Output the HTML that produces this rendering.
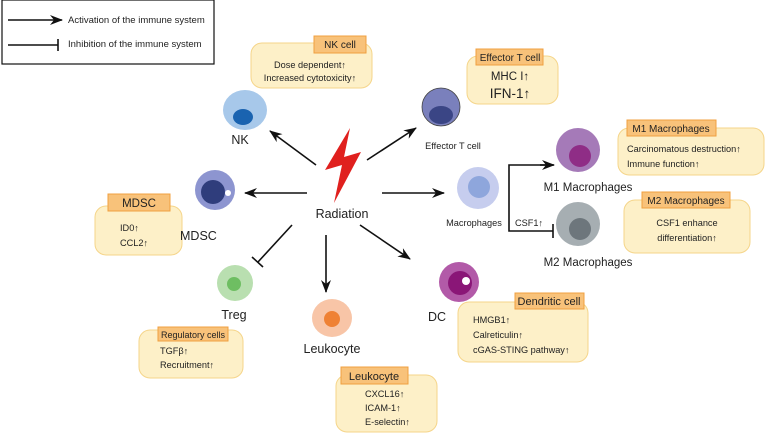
<!DOCTYPE html>
<html><head><meta charset="utf-8"><style>body{margin:0;background:#fff}svg{display:block}text{font-family:"Liberation Sans",sans-serif;fill:#222}</style></head><body>
<svg width="766" height="435" viewBox="0 0 766 435" xmlns="http://www.w3.org/2000/svg">
<defs><marker id="a" markerWidth="13" markerHeight="10" refX="12" refY="5" orient="auto" markerUnits="userSpaceOnUse"><path d="M0,0 L13,5 L0,10 L4,5z" fill="#111"/></marker></defs>
<g stroke="#111" stroke-width="1.6" fill="none">
<rect x="2" y="0" width="212" height="64" stroke-width="1.2"/>
<line x1="8" y1="20" x2="62" y2="20" marker-end="url(#a)"/>
<line x1="8" y1="45" x2="58" y2="45"/><line x1="58" y1="39" x2="58" y2="51"/>
<line x1="316" y1="165" x2="270" y2="131" marker-end="url(#a)"/>
<line x1="367" y1="160" x2="416" y2="128" marker-end="url(#a)"/>
<line x1="382" y1="193" x2="444" y2="193" marker-end="url(#a)"/>
<line x1="307" y1="193" x2="245" y2="193" marker-end="url(#a)"/>
<line x1="292" y1="225" x2="258" y2="262"/><line x1="252" y1="257" x2="263" y2="267"/>
<line x1="326" y1="235" x2="326" y2="292" marker-end="url(#a)"/>
<line x1="360" y1="225" x2="410" y2="259" marker-end="url(#a)"/>
<polyline points="553,165 509,165 509,231 553,231"/>
<line x1="540" y1="165" x2="554" y2="165" marker-end="url(#a)"/>
<line x1="553" y1="224" x2="553" y2="238"/>
</g>
<polygon points="350,128 325,170 342,165 334,203 361,152 344,157" fill="#e0201e"/>
<ellipse cx="245" cy="110" rx="22" ry="20" fill="#a7c8ea"/><ellipse cx="243" cy="117" rx="10" ry="8" fill="#1a63b0"/>
<circle cx="441" cy="107" r="19" fill="#7a80bc" stroke="#444" stroke-width="0.8"/><ellipse cx="441" cy="115" rx="12" ry="9" fill="#3a4585"/>
<circle cx="478" cy="188" r="21" fill="#c6cdee"/><circle cx="479" cy="187" r="11" fill="#8ea6dc"/>
<circle cx="578" cy="150" r="22" fill="#a57ab8"/><circle cx="580" cy="156" r="11" fill="#8f2d86"/>
<circle cx="578" cy="224" r="22" fill="#a6aeb2"/><circle cx="580" cy="229" r="11" fill="#6d767c"/>
<circle cx="215" cy="190" r="20" fill="#8d95d0"/><circle cx="213" cy="192" r="12" fill="#2f3d7c"/><circle cx="228" cy="193" r="3" fill="#fff"/>
<circle cx="235" cy="283" r="18" fill="#b9dfb0"/><circle cx="234" cy="284" r="7" fill="#6ebe62"/>
<ellipse cx="332" cy="318" rx="20" ry="19" fill="#f8c5a7"/><circle cx="332" cy="319" r="8" fill="#ef8134"/>
<circle cx="459" cy="282" r="20" fill="#b25aa8"/><circle cx="460" cy="283" r="12" fill="#8a1677"/><circle cx="466" cy="281" r="4" fill="#fff"/>
<g fill="#fdf0c8" stroke="#f5d58a" stroke-width="1">
<rect x="251" y="43" width="121" height="45" rx="11"/>
<rect x="467" y="56" width="91" height="48" rx="11"/>
<rect x="618" y="128" width="146" height="47" rx="11"/>
<rect x="624" y="200" width="126" height="53" rx="11"/>
<rect x="95" y="206" width="87" height="49" rx="11"/>
<rect x="139" y="330" width="104" height="48" rx="11"/>
<rect x="336" y="375" width="101" height="57" rx="11"/>
<rect x="458" y="302" width="130" height="60" rx="11"/>
</g>
<g fill="#f8c27a" stroke="#f0a040" stroke-width="1">
<rect x="314" y="36" width="52" height="17"/>
<rect x="476" y="49" width="67" height="16"/>
<rect x="627" y="120" width="89" height="16"/>
<rect x="642" y="192" width="88" height="16"/>
<rect x="108" y="194" width="62" height="17"/>
<rect x="158" y="327" width="70" height="14"/>
<rect x="341" y="367" width="67" height="17"/>
<rect x="515" y="293" width="69" height="16"/>
</g>
<g font-size="9.5">
<text x="68" y="23">Activation of the immune system</text>
<text x="68" y="47">Inhibition of the immune system</text>
</g>
<g font-size="10" text-anchor="middle">
<text x="340" y="48">NK cell</text>
<text x="510" y="61">Effector T cell</text>
<text x="671" y="132">M1 Macrophages</text>
<text x="686" y="204">M2 Macrophages</text>
<text x="193" y="338" font-size="9">Regulatory cells</text>
<text x="549" y="305" font-size="11">Dendritic cell</text>
<text x="374" y="380" font-size="11">Leukocyte</text>
</g>
<text x="139" y="207" font-size="11.5" text-anchor="middle">MDSC</text>
<g font-size="9.2">
<text x="310" y="68" text-anchor="middle">Dose dependent↑</text>
<text x="310" y="81" text-anchor="middle">Increased cytotoxicity↑</text>
<text x="627" y="152">Carcinomatous destruction↑</text>
<text x="627" y="167">Immune function↑</text>
<text x="687" y="226" text-anchor="middle">CSF1 enhance</text>
<text x="687" y="241" text-anchor="middle">differentiation↑</text>
<text x="120" y="231">ID0↑</text><text x="120" y="246">CCL2↑</text>
<text x="160" y="354">TGFβ↑</text><text x="160" y="368">Recruitment↑</text>
<text x="365" y="397">CXCL16↑</text><text x="365" y="411">ICAM-1↑</text><text x="365" y="425">E-selectin↑</text>
<text x="473" y="323">HMGB1↑</text><text x="473" y="338">Calreticulin↑</text><text x="473" y="353">cGAS-STING pathway↑</text>
<text x="453" y="149" text-anchor="middle">Effector T cell</text>
<text x="474" y="226" text-anchor="middle">Macrophages</text>
<text x="515" y="226">CSF1↑</text>
</g>
<text x="510" y="80" font-size="11.5" text-anchor="middle">MHC I↑</text>
<text x="510" y="98" font-size="13.5" text-anchor="middle">IFN-1↑</text>
<g font-size="12.5" text-anchor="middle">
<text x="240" y="144">NK</text>
<text x="342" y="218">Radiation</text>
<text x="588" y="191" font-size="11.5">M1 Macrophages</text>
<text x="588" y="266" font-size="11.5">M2 Macrophages</text>
<text x="180" y="240" text-anchor="start">MDSC</text>
<text x="234" y="319">Treg</text>
<text x="332" y="353">Leukocyte</text>
<text x="437" y="321">DC</text>
</g>
</svg>
</body></html>
